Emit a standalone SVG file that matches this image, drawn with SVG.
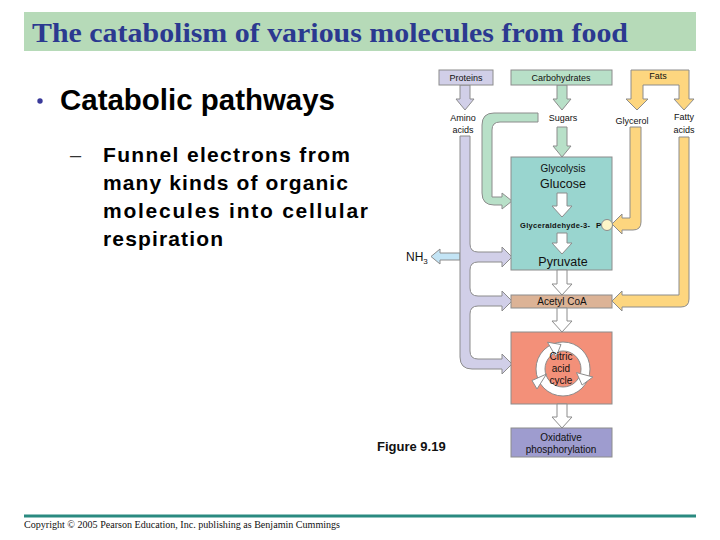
<svg xmlns="http://www.w3.org/2000/svg" width="720" height="540" viewBox="0 0 720 540">
<style>
.sm{font-family:"Liberation Sans",Arial,sans-serif;font-size:9px;fill:#111;text-anchor:middle}
.md{font-family:"Liberation Sans",Arial,sans-serif;font-size:10px;fill:#111;text-anchor:middle}
.lg{font-family:"Liberation Sans",Arial,sans-serif;font-size:12.5px;fill:#111;text-anchor:middle}
.ol{stroke:#8c8c8c;stroke-width:1}
.wa{fill:#fff;stroke:#8c8c8c;stroke-width:1}
.body{font-family:"Liberation Sans",Arial,sans-serif;font-weight:bold;fill:#000}
</style>
<rect width="720" height="540" fill="#fff"/>
<g id="title">
<rect x="24" y="12" width="672" height="39" fill="#b6dab8"/>
<text x="32" y="42" font-family="Liberation Serif,'Times New Roman',serif" font-weight="bold" font-size="28" fill="#2b3990" textLength="596" lengthAdjust="spacingAndGlyphs">The catabolism of various molecules from food</text>
</g>
<g id="bullets">
<circle cx="40" cy="101" r="2.7" fill="#3a3a9a"/>
<text class="body" x="60" y="110" font-size="29" textLength="275" lengthAdjust="spacingAndGlyphs">Catabolic pathways</text>
<text x="70" y="162" font-family="Liberation Sans,Arial,sans-serif" font-size="20" fill="#333">–</text>
<text class="body" x="103" y="162" font-size="21" textLength="247" lengthAdjust="spacing">Funnel electrons from</text>
<text class="body" x="103" y="190" font-size="21" textLength="245" lengthAdjust="spacing">many kinds of organic</text>
<text class="body" x="103" y="218" font-size="21" textLength="265" lengthAdjust="spacing">molecules into cellular</text>
<text class="body" x="103" y="246" font-size="21" textLength="120" lengthAdjust="spacing">respiration</text>
</g>
<g id="connectors">
<path class="ol" fill="#c3e4f5" d="M460,253 H440 V249 L431,256.5 L440,264 V260 H460 Z"/>
<path class="ol" fill="#d1cfe8" d="M460,85 V99 H456 L465,110 L474,99 H470 V85 Z"/>
<path class="ol" fill="#d1cfe8" d="M460,136 H470 V244 Q470,252 478,252 H502 V247 L512,257 L502,267 V262 H478 Q470,262 470,270 V288 Q470,296 478,296 H502 V291 L512,301 L502,311 V306 H478 Q470,306 470,314 V351 Q470,359 478,359 H502 V354 L512,364 L502,374 V369 H472 Q460,369 460,357 Z"/>
<path class="ol" fill="#b8e0c8" d="M557,85 V99 H553 L562,110 L571,99 H567 V85 Z"/>
<path class="ol" fill="#b8e0c8" d="M557,127 V146 H553 L562,157 L571,146 H567 V127 Z"/>
<path class="ol" fill="#b8e0c8" d="M538,113 V122 H500 Q492,122 492,130 V197 H502 V193 L512,201 L502,209 V205 H494 Q482,205 482,193 V125 Q482,113 494,113 Z"/>
<path class="ol" fill="#fdd67f" d="M630,127 H641 V222 Q641,230 633,230 H622 V234 L612,224 L622,214 V218 H630 Z"/>
<path class="ol" fill="#fdd67f" d="M679,137 H689 V299 Q689,307 681,307 H622 V311 L612,301 L622,291 V295 H679 Z"/>
</g>
<g id="proteins">
<rect class="ol" x="439" y="70" width="54" height="15" fill="#d1cfe8"/>
<text class="sm" x="466" y="81">Proteins</text>
</g>
<g id="carbohydrates">
<rect class="ol" x="511" y="70" width="101" height="15" fill="#b8e0c8"/>
<text class="sm" x="561" y="81">Carbohydrates</text>
</g>
<g id="fats">
<path class="ol" fill="#fdd67f" d="M631,70 H689 V99 H694 L684,110 L674,99 H679 V85 H643 V99 H648 L637,110 L626,99 H631 Z"/>
<text class="sm" x="658" y="79">Fats</text>
</g>
<g id="amino-acids"><text class="sm" x="463" y="121">Amino</text><text class="sm" x="463" y="133">acids</text></g>
<g id="sugars"><text class="sm" x="563" y="121">Sugars</text></g>
<g id="glycerol"><text class="sm" x="632" y="124">Glycerol</text></g>
<g id="fatty-acids"><text class="sm" x="684" y="120">Fatty</text><text class="sm" x="684" y="133">acids</text></g>
<g id="glycolysis">
<rect class="ol" x="511" y="157" width="101" height="113" fill="#99d5cf"/>
<text class="md" x="563" y="172">Glycolysis</text>
<text class="lg" x="563" y="188">Glucose</text>
<path class="wa" d="M557,193 V206 H552 L562,217 L572,206 H567 V193 Z"/>
<text x="520" y="228" font-family="Liberation Sans,Arial,sans-serif" font-weight="bold" font-size="7.5" fill="#111" textLength="70" lengthAdjust="spacing">Glyceraldehyde-3-</text>
<text x="596" y="228" font-family="Liberation Sans,Arial,sans-serif" font-weight="bold" font-size="8" fill="#111">P</text>
<circle class="ol" cx="607" cy="225" r="5.5" fill="#fdf5c8"/>
<path class="wa" d="M557,233 V243 H552 L562,254 L572,243 H567 V233 Z"/>
<text class="lg" x="563" y="266">Pyruvate</text>
</g>
<g id="nh3">
<text x="406" y="261" font-family="Liberation Sans,Arial,sans-serif" font-size="12" fill="#111">NH<tspan font-size="8" dy="3">3</tspan></text>
</g>
<g id="acetyl-coa">
<path class="wa" d="M557,270 V284 H552 L562,295 L572,284 H567 V270 Z"/>
<rect class="ol" x="511" y="295" width="101" height="13" fill="#dcb396"/>
<text class="md" x="562" y="305">Acetyl CoA</text>
</g>
<g id="citric-acid-cycle">
<path class="wa" d="M557,308 V321 H552 L562,332 L572,321 H567 V308 Z"/>
<rect class="ol" x="511" y="332" width="101" height="72" fill="#f39079"/>
<circle cx="563" cy="369" r="27" fill="#fff" stroke="#8c8c8c"/>
<circle cx="563" cy="369" r="18" fill="#f39079" stroke="#8c8c8c"/>
<polygon class="wa" points="556,356.9 547.5,342.2 561,344.5"/>
<polygon class="wa" points="576.5,372.6 592.9,377 582.1,385"/>
<polygon class="wa" points="546.5,374 532,380.5 537,389"/>
<text class="md" x="561" y="360">Citric</text>
<text class="md" x="561" y="372">acid</text>
<text class="md" x="561" y="384">cycle</text>
</g>
<g id="oxidative-phosphorylation">
<path class="wa" d="M557,404 V417 H552 L562,428 L572,417 H567 V404 Z"/>
<rect class="ol" x="511" y="428" width="101" height="29" fill="#9e9ccf"/>
<text class="md" x="561" y="441">Oxidative</text>
<text class="md" x="561" y="453">phosphorylation</text>
</g>
<g id="figure-label">
<text x="377" y="451" font-family="Liberation Sans,Arial,sans-serif" font-weight="bold" font-size="13" fill="#111">Figure 9.19</text>
</g>
<g id="footer">
<rect x="24" y="514.5" width="672" height="3" fill="#2a8a80"/>
<text x="24" y="528" font-family="Liberation Serif,'Times New Roman',serif" font-size="10" fill="#111" textLength="316" lengthAdjust="spacingAndGlyphs">Copyright © 2005 Pearson Education, Inc. publishing as Benjamin Cummings</text>
</g>
</svg>
